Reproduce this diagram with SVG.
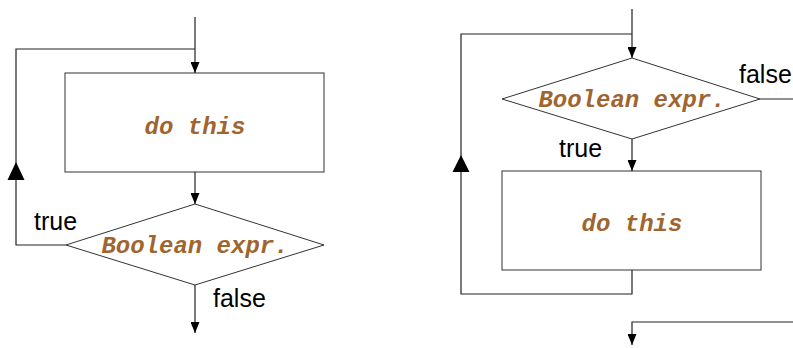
<svg xmlns="http://www.w3.org/2000/svg" width="793" height="348" viewBox="0 0 793 348">
  <defs>
    <style>
      .box { fill: #fff; stroke: #333; stroke-width: 1; }
      .line { fill: none; stroke: #222; stroke-width: 1.2; }
      .code { font-family: "Liberation Mono", "Courier New", monospace; font-weight: bold; font-style: italic; font-size: 24px; fill: #A0652F; text-anchor: middle; }
      .lbl { font-family: "Liberation Sans", Arial, sans-serif; font-size: 25px; fill: #000; }
      .head { fill: #000; }
    </style>
    <marker id="arrow" viewBox="0 0 11 9" refX="11" refY="4.5" markerWidth="11" markerHeight="9" markerUnits="userSpaceOnUse" orient="auto">
      <path d="M0,0 L11,4.5 L0,9 Z" class="head"/>
    </marker>
  </defs>

  <rect width="793" height="348" fill="#fff"/>

  <!-- do-while loop (left) -->
  <g id="left-action">
    <rect class="box" x="65" y="73" width="259" height="99"/>
    <text class="code" x="195" y="134">do this</text>
  </g>
  <g id="left-condition">
    <polygon class="box" points="66,245 195,204 324,245 195,285"/>
    <text class="code" x="195" y="253">Boolean expr.</text>
  </g>
  <g id="left-labels">
    <text class="lbl" x="34" y="230">true</text>
    <text class="lbl" x="213" y="307">false</text>
  </g>

  <!-- while loop (right) -->
  <g id="right-condition">
    <polygon class="box" points="502,99 632,58 760,99 632,139"/>
    <text class="code" x="632" y="107">Boolean expr.</text>
  </g>
  <g id="right-action">
    <rect class="box" x="502" y="171" width="259" height="99"/>
    <text class="code" x="632" y="231">do this</text>
  </g>
  <g id="right-labels">
    <text class="lbl" x="739" y="83">false</text>
    <text class="lbl" x="559" y="157">true</text>
  </g>

  <g id="connectors">
    <!-- left -->
    <line class="line" x1="195" y1="17" x2="195" y2="73" marker-end="url(#arrow)"/>
    <polyline class="line" points="66,245 16,245 16,49 195,49"/>
    <polygon class="head" points="16,162 7.5,180 24.5,180"/>
    <line class="line" x1="195" y1="172" x2="195" y2="204" marker-end="url(#arrow)"/>
    <line class="line" x1="195" y1="285" x2="195" y2="333" marker-end="url(#arrow)"/>
    <!-- right -->
    <line class="line" x1="632" y1="9" x2="632" y2="58" marker-end="url(#arrow)"/>
    <polyline class="line" points="632,270 632,294 461,294 461,34 632,34"/>
    <polygon class="head" points="461,155 452.5,172 469.5,172"/>
    <line class="line" x1="632" y1="139" x2="632" y2="171" marker-end="url(#arrow)"/>
    <line class="line" x1="760" y1="99" x2="793" y2="99"/>
    <polyline class="line" points="793,322 632,322 632,345" marker-end="url(#arrow)"/>
  </g>
</svg>
